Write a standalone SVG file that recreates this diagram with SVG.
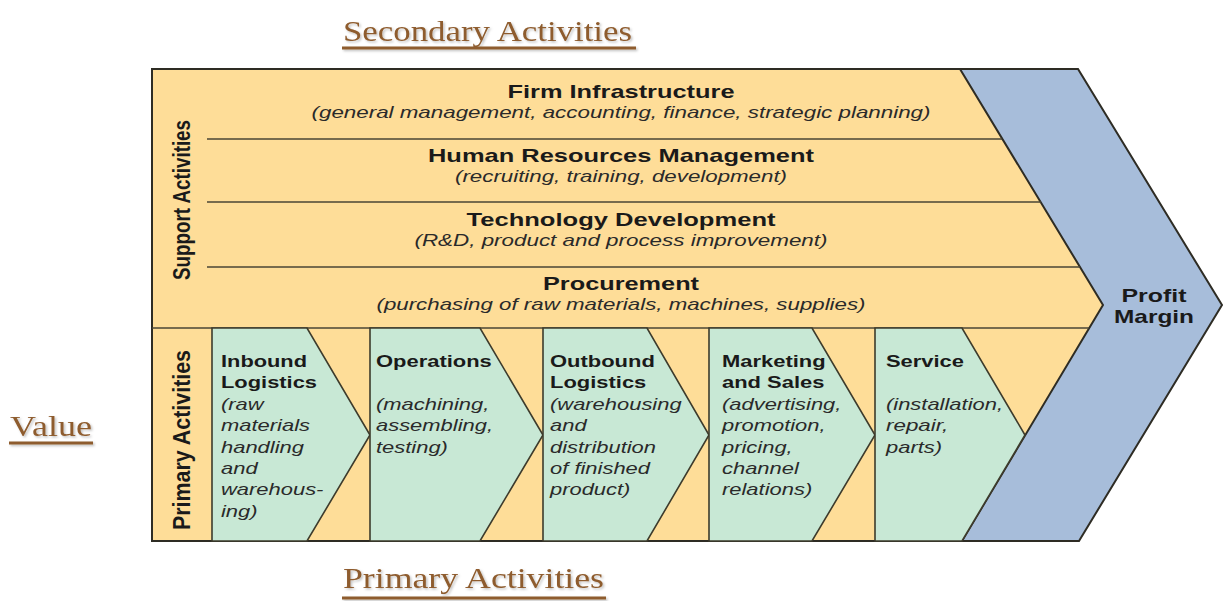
<svg xmlns="http://www.w3.org/2000/svg" width="1224" height="601" viewBox="0 0 1224 601">
  <defs>
    <filter id="soft-shadow" x="-5%" y="-20%" width="110%" height="150%">
      <feDropShadow dx="1.5" dy="1.5" stdDeviation="1" flood-color="#000" flood-opacity="0.25"/>
    </filter>
  </defs>
  <style>
    .heading { font-family: "Liberation Serif", "DejaVu Serif", serif; font-size: 30px; fill: #8e5c2e; }
    .heading-rule { stroke: #8e5c2e; stroke-width: 3; }
    .outline { stroke: #2e2c24; stroke-width: 2; stroke-linejoin: miter; }
    .band { fill: #fedd98; }
    .margin { fill: #a7bdda; }
    .row-line { stroke: #4a4535; stroke-width: 1.6; fill: none; }
    .chevron { fill: #c8e8d5; stroke: #3d3b2c; stroke-width: 1.6; stroke-linejoin: miter; }
    .title { font-family: "Liberation Sans", Arial, sans-serif; font-weight: bold; font-size: 19px; fill: #1a1a1a; }
    .sub { font-family: "Liberation Sans", Arial, sans-serif; font-style: italic; font-size: 17px; fill: #2a2a2a; }
    .ctitle { font-family: "Liberation Sans", Arial, sans-serif; font-weight: bold; font-size: 17px; fill: #1a1a1a; }
    .csub { font-family: "Liberation Sans", Arial, sans-serif; font-style: italic; font-size: 17px; fill: #2a2a2a; }
    .side { font-family: "Liberation Sans", Arial, sans-serif; font-weight: bold; font-size: 18.7px; fill: #1a1a1a; }
  </style>

  <rect width="1224" height="601" fill="#ffffff"/>

  <!-- Headings -->
  <g id="heading-secondary" filter="url(#soft-shadow)">
    <text class="heading" x="343" y="41" textLength="289" lengthAdjust="spacingAndGlyphs">Secondary Activities</text>
    <line class="heading-rule" x1="342" y1="48" x2="636" y2="48"/>
  </g>
  <g id="heading-value" filter="url(#soft-shadow)">
    <text class="heading" x="10" y="436" textLength="82" lengthAdjust="spacingAndGlyphs">Value</text>
    <line class="heading-rule" x1="9" y1="443" x2="93" y2="443"/>
  </g>
  <g id="heading-primary" filter="url(#soft-shadow)">
    <text class="heading" x="343" y="588" textLength="261" lengthAdjust="spacingAndGlyphs">Primary Activities</text>
    <line class="heading-rule" x1="342" y1="598" x2="606" y2="598"/>
  </g>

  <!-- Value chain frame -->
  <g id="frame">
    <polygon class="band" points="152,69 960,69 1103,305 962,541 152,541"/>
    <polygon class="margin outline" points="960,69 1078,69 1222,305 1079,541 962,541 1103,305"/>
    <polyline class="outline" fill="none" points="960,69 152,69 152,541 962,541"/>
  </g>

  <!-- Row dividers -->
  <g id="connectors">
    <line class="row-line" x1="207" y1="139" x2="1002" y2="139"/>
    <line class="row-line" x1="207" y1="202" x2="1041" y2="202"/>
    <line class="row-line" x1="207" y1="267" x2="1080" y2="267"/>
    <line class="row-line" x1="152" y1="328" x2="1089" y2="328"/>
  </g>

  <!-- Side labels -->
  <g id="label-support">
    <text class="side" text-anchor="middle" transform="translate(190,200) scale(1.3,1) rotate(-90)" textLength="160" lengthAdjust="spacingAndGlyphs">Support Activities</text>
  </g>
  <g id="label-primary">
    <text class="side" text-anchor="middle" transform="translate(190,440) scale(1.3,1) rotate(-90)" textLength="180" lengthAdjust="spacingAndGlyphs">Primary Activities</text>
  </g>

  <!-- Support activities -->
  <g id="firm-infrastructure">
    <text class="title" x="621" y="98" text-anchor="middle" textLength="227" lengthAdjust="spacingAndGlyphs">Firm Infrastructure</text>
    <text class="sub" x="621" y="118" text-anchor="middle" textLength="619" lengthAdjust="spacingAndGlyphs">(general management, accounting, finance, strategic planning)</text>
  </g>
  <g id="human-resources">
    <text class="title" x="621" y="162" text-anchor="middle" textLength="386" lengthAdjust="spacingAndGlyphs">Human Resources Management</text>
    <text class="sub" x="621" y="182" text-anchor="middle" textLength="332" lengthAdjust="spacingAndGlyphs">(recruiting, training, development)</text>
  </g>
  <g id="technology-development">
    <text class="title" x="621" y="226" text-anchor="middle" textLength="309" lengthAdjust="spacingAndGlyphs">Technology Development</text>
    <text class="sub" x="621" y="246" text-anchor="middle" textLength="413" lengthAdjust="spacingAndGlyphs">(R&amp;D, product and process improvement)</text>
  </g>
  <g id="procurement">
    <text class="title" x="621" y="290" text-anchor="middle" textLength="156" lengthAdjust="spacingAndGlyphs">Procurement</text>
    <text class="sub" x="621" y="310" text-anchor="middle" textLength="489" lengthAdjust="spacingAndGlyphs">(purchasing of raw materials, machines, supplies)</text>
  </g>

  <!-- Primary activities -->
  <g id="inbound-logistics">
    <polygon class="chevron" points="212,328 307,328 370,435 307,541 212,541"/>
    <text class="ctitle" x="221" y="367" textLength="86" lengthAdjust="spacingAndGlyphs">Inbound</text>
    <text class="ctitle" x="221" y="388.4" textLength="96" lengthAdjust="spacingAndGlyphs">Logistics</text>
    <text class="csub" x="221" y="409.8" textLength="42.6" lengthAdjust="spacingAndGlyphs">(raw</text>
    <text class="csub" x="221" y="431.2" textLength="89" lengthAdjust="spacingAndGlyphs">materials</text>
    <text class="csub" x="221" y="452.6" textLength="83" lengthAdjust="spacingAndGlyphs">handling</text>
    <text class="csub" x="221" y="474" textLength="36.6" lengthAdjust="spacingAndGlyphs">and</text>
    <text class="csub" x="221" y="495.4" textLength="102.4" lengthAdjust="spacingAndGlyphs">warehous-</text>
    <text class="csub" x="221" y="516.8" textLength="36.6" lengthAdjust="spacingAndGlyphs">ing)</text>
  </g>
  <g id="operations">
    <polygon class="chevron" points="370,328 480,328 543,435 480,541 370,541"/>
    <text class="ctitle" x="376" y="367" textLength="115.8" lengthAdjust="spacingAndGlyphs">Operations</text>
    <text class="csub" x="376" y="409.8" textLength="113.3" lengthAdjust="spacingAndGlyphs">(machining,</text>
    <text class="csub" x="376" y="431.2" textLength="117" lengthAdjust="spacingAndGlyphs">assembling,</text>
    <text class="csub" x="376" y="452.6" textLength="71.9" lengthAdjust="spacingAndGlyphs">testing)</text>
  </g>
  <g id="outbound-logistics">
    <polygon class="chevron" points="543,328 647,328 709,435 647,541 543,541"/>
    <text class="ctitle" x="550" y="367" textLength="104.8" lengthAdjust="spacingAndGlyphs">Outbound</text>
    <text class="ctitle" x="550" y="388.4" textLength="96.3" lengthAdjust="spacingAndGlyphs">Logistics</text>
    <text class="csub" x="550" y="409.8" textLength="131.6" lengthAdjust="spacingAndGlyphs">(warehousing</text>
    <text class="csub" x="550" y="431.2" textLength="36.6" lengthAdjust="spacingAndGlyphs">and</text>
    <text class="csub" x="550" y="452.6" textLength="106" lengthAdjust="spacingAndGlyphs">distribution</text>
    <text class="csub" x="550" y="474" textLength="100" lengthAdjust="spacingAndGlyphs">of finished</text>
    <text class="csub" x="550" y="495.4" textLength="80.4" lengthAdjust="spacingAndGlyphs">product)</text>
  </g>
  <g id="marketing-and-sales">
    <polygon class="chevron" points="709,328 812,328 875,435 812,541 709,541"/>
    <text class="ctitle" x="722" y="367" textLength="103.6" lengthAdjust="spacingAndGlyphs">Marketing</text>
    <text class="ctitle" x="722" y="388.4" textLength="102.4" lengthAdjust="spacingAndGlyphs">and Sales</text>
    <text class="csub" x="722" y="409.8" textLength="119.4" lengthAdjust="spacingAndGlyphs">(advertising,</text>
    <text class="csub" x="722" y="431.2" textLength="103.6" lengthAdjust="spacingAndGlyphs">promotion,</text>
    <text class="csub" x="722" y="452.6" textLength="70.7" lengthAdjust="spacingAndGlyphs">pricing,</text>
    <text class="csub" x="722" y="474" textLength="76.8" lengthAdjust="spacingAndGlyphs">channel</text>
    <text class="csub" x="722" y="495.4" textLength="90.2" lengthAdjust="spacingAndGlyphs">relations)</text>
  </g>
  <g id="service">
    <polygon class="chevron" points="875,328 962,328 1025,435 962,541 875,541"/>
    <text class="ctitle" x="886" y="367" textLength="78" lengthAdjust="spacingAndGlyphs">Service</text>
    <text class="csub" x="886" y="409.8" textLength="117" lengthAdjust="spacingAndGlyphs">(installation,</text>
    <text class="csub" x="886" y="431.2" textLength="62.2" lengthAdjust="spacingAndGlyphs">repair,</text>
    <text class="csub" x="886" y="452.6" textLength="56.1" lengthAdjust="spacingAndGlyphs">parts)</text>
  </g>

  <!-- Margin arrow label -->
  <g id="profit-margin">
    <text class="title" x="1154" y="302" text-anchor="middle" textLength="65" lengthAdjust="spacingAndGlyphs">Profit</text>
    <text class="title" x="1154" y="323" text-anchor="middle" textLength="80" lengthAdjust="spacingAndGlyphs">Margin</text>
  </g>
</svg>
